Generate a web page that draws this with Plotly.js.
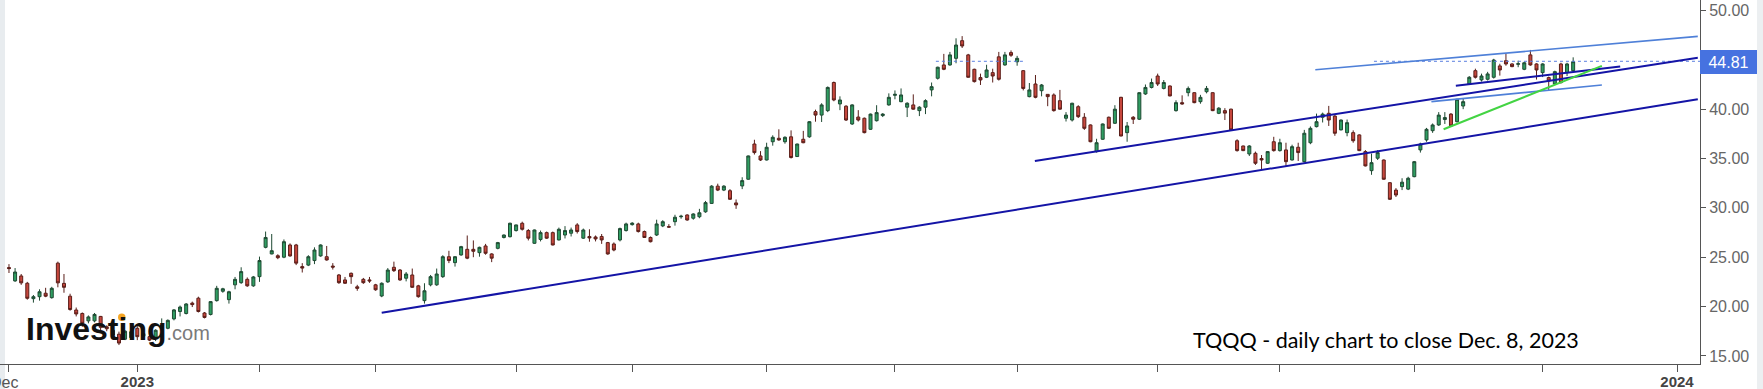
<!DOCTYPE html>
<html>
<head>
<meta charset="utf-8">
<script src="https://cdn.plot.ly/plotly-3.0.1.min.js"></script>
<style>
  html, body { margin: 0; padding: 0; background: #ffffff; }
  #chart { width: 1763px; height: 389px; }
</style>
</head>
<body>
<div id="chart"></div>
<script>
// ---- Trading sessions (x categories) ----
const dates = [
  '2022-12-01','2022-12-02','2022-12-05','2022-12-06','2022-12-07','2022-12-08','2022-12-09','2022-12-12','2022-12-13','2022-12-14','2022-12-15','2022-12-16','2022-12-19','2022-12-20','2022-12-21','2022-12-22','2022-12-23','2022-12-27','2022-12-28','2022-12-29','2022-12-30',
  '2023-01-03','2023-01-04','2023-01-05','2023-01-06','2023-01-09','2023-01-10','2023-01-11','2023-01-12','2023-01-13','2023-01-17','2023-01-18','2023-01-19','2023-01-20','2023-01-23','2023-01-24','2023-01-25','2023-01-26','2023-01-27','2023-01-30','2023-01-31',
  '2023-02-01','2023-02-02','2023-02-03','2023-02-06','2023-02-07','2023-02-08','2023-02-09','2023-02-10','2023-02-13','2023-02-14','2023-02-15','2023-02-16','2023-02-17','2023-02-21','2023-02-22','2023-02-23','2023-02-24','2023-02-27','2023-02-28',
  '2023-03-01','2023-03-02','2023-03-03','2023-03-06','2023-03-07','2023-03-08','2023-03-09','2023-03-10','2023-03-13','2023-03-14','2023-03-15','2023-03-16','2023-03-17','2023-03-20','2023-03-21','2023-03-22','2023-03-23','2023-03-24','2023-03-27','2023-03-28','2023-03-29','2023-03-30','2023-03-31',
  '2023-04-03','2023-04-04','2023-04-05','2023-04-06','2023-04-10','2023-04-11','2023-04-12','2023-04-13','2023-04-14','2023-04-17','2023-04-18','2023-04-19','2023-04-20','2023-04-21','2023-04-24','2023-04-25','2023-04-26','2023-04-27','2023-04-28',
  '2023-05-01','2023-05-02','2023-05-03','2023-05-04','2023-05-05','2023-05-08','2023-05-09','2023-05-10','2023-05-11','2023-05-12','2023-05-15','2023-05-16','2023-05-17','2023-05-18','2023-05-19','2023-05-22','2023-05-23','2023-05-24','2023-05-25','2023-05-26','2023-05-30','2023-05-31',
  '2023-06-01','2023-06-02','2023-06-05','2023-06-06','2023-06-07','2023-06-08','2023-06-09','2023-06-12','2023-06-13','2023-06-14','2023-06-15','2023-06-16','2023-06-20','2023-06-21','2023-06-22','2023-06-23','2023-06-26','2023-06-27','2023-06-28','2023-06-29','2023-06-30',
  '2023-07-03','2023-07-05','2023-07-06','2023-07-07','2023-07-10','2023-07-11','2023-07-12','2023-07-13','2023-07-14','2023-07-17','2023-07-18','2023-07-19','2023-07-20','2023-07-21','2023-07-24','2023-07-25','2023-07-26','2023-07-27','2023-07-28','2023-07-31',
  '2023-08-01','2023-08-02','2023-08-03','2023-08-04','2023-08-07','2023-08-08','2023-08-09','2023-08-10','2023-08-11','2023-08-14','2023-08-15','2023-08-16','2023-08-17','2023-08-18','2023-08-21','2023-08-22','2023-08-23','2023-08-24','2023-08-25','2023-08-28','2023-08-29','2023-08-30','2023-08-31',
  '2023-09-01','2023-09-05','2023-09-06','2023-09-07','2023-09-08','2023-09-11','2023-09-12','2023-09-13','2023-09-14','2023-09-15','2023-09-18','2023-09-19','2023-09-20','2023-09-21','2023-09-22','2023-09-25','2023-09-26','2023-09-27','2023-09-28','2023-09-29',
  '2023-10-02','2023-10-03','2023-10-04','2023-10-05','2023-10-06','2023-10-09','2023-10-10','2023-10-11','2023-10-12','2023-10-13','2023-10-16','2023-10-17','2023-10-18','2023-10-19','2023-10-20','2023-10-23','2023-10-24','2023-10-25','2023-10-26','2023-10-27','2023-10-30','2023-10-31',
  '2023-11-01','2023-11-02','2023-11-03','2023-11-06','2023-11-07','2023-11-08','2023-11-09','2023-11-10','2023-11-13','2023-11-14','2023-11-15','2023-11-16','2023-11-17','2023-11-20','2023-11-21','2023-11-22','2023-11-24','2023-11-27','2023-11-28','2023-11-29','2023-11-30',
  '2023-12-01','2023-12-04','2023-12-05','2023-12-06','2023-12-07','2023-12-08'
];

// ---- OHLC values ----
const open = [
  23.95,22.6,23.1,22.36,20.8,21.0,21.35,20.9,24.4,22.35,21.05,19.65,19.3,18.55,18.55,19.0,17.95,17.6,17.2,16.7,16.85,
  17.8,17.0,16.95,16.8,17.9,17.8,18.75,19.5,19.3,20.35,20.85,19.35,19.2,20.6,21.55,20.7,22.2,22.42,22.76,22.1,
  23.03,26.0,25.33,25.15,25.0,26.24,26.24,24.05,24.2,24.66,25.13,25.05,24.1,23.2,22.7,23.37,22.0,22.76,22.7,
  22.2,21.07,22.5,23.98,23.7,22.87,23.2,22.1,20.6,22.2,22.2,23.03,25.05,24.45,25.23,25.8,25.8,25.46,26.14,25.33,25.9,27.0,27.08,
  27.7,28.44,27.7,26.41,26.8,27.49,27.49,26.75,27.25,27.43,28.27,26.93,27.1,27.05,27.1,26.48,26.34,26.75,27.7,
  28.3,28.37,27.6,27.0,27.25,28.17,28.1,28.6,29.1,29.28,28.95,29.1,29.6,30.45,32.2,31.8,31.74,30.5,32.22,32.9,36.47,35.26,
  34.85,36.7,37.05,36.7,37.2,35.2,36.95,37.2,39.75,39.4,39.85,42.7,40.53,40.3,38.5,39.2,39.08,37.96,38.83,39.35,40.43,
  41.4,40.76,40.2,40.43,39.85,40.2,41.95,43.13,44.48,44.48,45.15,46.94,45.5,44.04,43.2,43.23,43.7,45.3,44.48,45.73,
  44.8,43.9,41.27,42.55,41.87,41.5,41.44,40.86,39.08,38.9,40.25,39.18,38.4,35.7,36.95,39.18,38.57,41.2,37.62,39.18,38.98,41.54,42.2,
  43.36,42.1,42.35,39.85,40.66,41.67,41.67,40.76,41.77,41.67,39.58,39.85,40.0,36.8,36.27,35.46,35.53,35.0,34.52,36.7,
  35.8,35.87,34.85,36.14,34.68,36.6,38.23,39.18,39.58,39.3,37.9,37.62,37.62,37.39,35.7,33.77,35.03,34.85,32.55,31.8,32.15,31.9,
  33.16,35.87,36.88,37.82,38.4,38.95,39.5,38.73,40.32,42.55,43.9,42.96,43.03,43.23,44.38,44.91,44.58,44.55,44.04,45.5,44.58,
  43.7,43.2,42.55,44.58,43.7,43.9
];
const high = [
  24.3,23.9,23.3,22.5,21.17,21.75,21.9,22.0,24.55,23.3,21.3,19.9,19.4,19.1,19.35,19.05,18.1,17.7,17.46,17.6,17.5,
  18.0,17.6,17.1,17.7,18.8,18.7,19.75,20.1,20.35,20.5,21.0,19.45,20.55,22.1,21.9,21.6,23.0,23.98,22.95,23.1,
  25.06,27.6,27.35,25.3,26.8,26.4,26.35,24.4,25.2,26.0,26.3,26.14,24.4,23.3,23.0,23.45,22.2,22.9,23.0,
  22.3,22.45,23.9,24.55,23.8,23.5,23.85,22.2,22.36,23.2,23.85,25.2,25.65,25.1,26.15,27.2,26.7,26.07,26.35,25.4,26.55,27.3,28.5,
  28.3,28.6,27.85,27.8,27.7,27.6,27.6,28.0,28.15,28.0,28.45,27.9,27.83,27.2,27.35,26.55,26.5,28.0,28.5,
  28.55,28.5,27.7,27.1,28.8,28.75,28.35,29.3,29.3,29.35,29.45,29.9,30.7,32.3,32.45,32.3,31.9,30.85,33.1,35.3,36.9,35.75,
  36.6,37.35,37.96,37.25,37.85,36.5,37.8,38.8,39.95,40.6,42.3,42.8,41.3,40.4,40.5,39.9,39.15,39.55,40.4,39.6,41.6,
  41.9,42.1,40.7,41.5,40.3,41.0,42.7,44.3,45.6,45.8,47.18,47.4,45.6,44.1,43.6,44.5,44.1,45.8,45.8,45.95,
  45.4,43.95,42.65,43.46,42.55,41.5,41.6,41.95,39.7,40.65,40.4,39.6,38.45,37.0,38.55,39.25,40.4,41.25,38.7,39.3,41.7,42.5,43.1,
  43.6,42.95,42.4,40.9,41.4,42.3,41.7,41.45,42.35,41.7,40.2,40.1,40.05,36.95,36.3,36.35,35.7,35.35,35.75,37.2,
  37.0,36.6,36.4,36.6,37.9,38.25,39.55,39.65,40.33,39.4,38.95,38.95,37.85,37.45,35.85,35.5,35.85,34.9,32.6,32.0,33.0,33.15,
  34.75,36.6,38.1,38.55,39.7,39.7,39.6,41.05,41.1,43.35,44.1,43.6,43.78,45.1,44.6,45.66,44.65,44.91,44.8,46.0,44.65,
  44.65,43.3,43.9,44.7,44.7,45.25
];
const low = [
  23.4,22.5,22.2,20.7,20.4,20.6,20.95,20.8,21.95,21.4,19.58,19.0,17.95,18.3,18.4,17.4,17.5,16.9,16.1,16.6,16.7,
  16.6,16.7,16.5,16.5,17.7,17.7,18.6,19.0,19.2,19.95,19.4,18.8,19.1,20.5,21.4,20.3,21.75,22.3,22.0,22.0,
  22.5,25.9,25.3,24.8,24.9,25.05,24.2,23.45,24.1,24.3,25.05,24.65,23.75,22.3,22.3,22.3,21.6,22.3,22.4,
  21.6,20.95,22.4,23.5,22.6,22.55,21.9,20.9,20.3,22.05,22.1,22.9,24.4,24.05,25.15,24.8,25.0,25.05,25.25,24.5,25.8,26.9,27.0,
  27.6,27.7,26.7,26.35,26.6,26.85,26.2,26.7,26.9,27.1,27.4,26.85,26.57,26.6,26.35,25.25,25.6,26.6,27.6,
  28.2,27.5,26.95,26.5,27.15,28.05,28.0,28.2,28.9,28.7,28.8,28.95,29.5,30.4,31.7,31.7,30.8,29.9,31.9,32.85,35.4,34.75,
  34.8,36.3,36.8,36.5,35.0,35.15,36.55,37.1,38.73,38.7,39.7,40.8,39.9,38.8,38.4,38.75,37.55,37.9,38.75,39.2,40.35,
  41.0,40.7,39.2,39.95,39.3,39.5,41.3,43.0,43.95,44.4,44.65,46.2,43.2,42.7,42.45,43.15,42.7,42.9,44.4,45.3,
  44.4,41.9,41.2,41.1,41.3,40.3,39.75,39.95,38.75,38.75,39.1,37.9,36.65,35.6,36.9,38.0,38.5,37.25,36.7,38.5,38.9,41.45,42.1,
  42.35,42.0,41.3,39.75,40.45,41.3,40.6,40.55,41.6,39.8,39.5,38.9,37.85,35.7,35.75,35.25,34.35,33.9,34.45,35.7,
  35.7,34.25,34.8,34.75,34.6,36.45,38.15,38.65,38.3,37.3,37.85,37.25,36.6,35.75,34.2,33.35,34.85,32.85,30.8,31.1,31.8,31.8,
  33.1,35.6,36.7,37.6,38.3,38.5,38.25,38.65,40.0,42.45,43.1,42.8,42.9,43.1,43.4,44.4,44.25,44.25,43.95,44.4,43.0,
  43.25,41.9,42.45,42.6,43.35,43.8
];
const close = [
  23.85,23.5,22.4,20.84,21.0,21.5,21.05,21.85,22.4,21.95,19.7,19.25,18.3,18.95,19.2,17.9,17.75,17.1,16.3,17.5,17.45,
  16.95,17.25,16.6,17.6,18.1,18.6,19.66,19.95,20.26,20.2,19.5,18.9,20.5,21.85,21.8,21.5,22.76,23.54,22.1,23.0,
  24.66,27.0,25.66,24.95,26.57,25.13,24.4,23.9,25.05,25.73,26.24,24.72,24.0,22.42,22.36,23.03,21.85,22.42,22.6,
  21.7,22.36,23.7,23.64,22.7,23.3,21.95,21.0,21.6,23.03,23.3,25.05,24.66,25.05,26.07,24.9,25.6,26.0,25.4,24.9,26.48,27.25,28.44,
  28.27,27.83,26.93,27.76,27.49,26.93,26.24,27.83,27.7,27.76,27.6,27.76,26.95,26.85,26.75,25.33,25.73,27.9,28.37,
  28.45,27.6,27.0,26.57,28.37,28.6,28.05,29.05,29.15,28.77,29.38,29.5,30.53,32.2,31.8,32.2,30.87,30.3,32.76,35.26,35.6,34.85,
  36.14,37.15,36.88,37.15,35.1,36.47,36.6,38.73,39.4,40.43,42.2,40.93,40.93,38.9,40.43,38.9,37.62,39.5,39.65,39.5,41.2,
  41.5,41.44,40.6,40.0,40.2,40.86,42.28,44.25,44.04,45.5,46.5,46.4,43.23,42.79,42.96,43.97,43.36,43.03,45.5,45.46,
  45.15,42.1,41.95,41.2,42.45,41.27,39.85,40.0,39.4,40.6,39.24,38.06,36.7,36.6,38.5,38.06,40.0,37.28,38.3,38.98,41.67,42.2,42.7,
  42.55,42.7,41.34,40.66,40.53,42.1,40.66,41.2,42.1,39.85,40.1,39.6,37.9,35.8,35.8,36.27,34.52,34.85,35.7,35.8,
  36.6,34.68,36.2,35.6,37.56,38.06,38.73,39.5,38.9,37.56,38.9,38.63,36.8,35.8,34.25,34.58,35.6,32.9,30.87,31.3,32.6,33.0,
  34.68,36.47,37.96,38.4,39.4,39.15,38.3,41.0,40.76,43.23,43.23,43.36,43.57,44.98,43.97,44.58,44.31,44.6,44.7,44.48,43.97,
  44.58,42.85,43.8,42.69,44.58,44.81
];

// ---- Axis ticks ----
const monthStarts = ['2022-12-01','2023-01-03','2023-02-01','2023-03-01','2023-04-03','2023-05-01','2023-06-01','2023-07-03','2023-08-01','2023-09-01','2023-10-02','2023-11-01','2023-12-01'];
const monthLabels = ['','<b>2023</b>','','','','','','','','','','',''];
const firstMonthLabel = 'Dec';
const nextYearLabel = '<b>2024</b>';
const nextYearSessionsAhead = 17;
const priceTicks = [15, 20, 25, 30, 35, 40, 45, 50];
const lastPrice = 44.81;
const chartNote = 'TQQQ - daily chart to close Dec. 8, 2023';

// ---- Drawn trend lines (session index, price) ----
const supportX = [61.0, 276.4],      supportY = [19.38, 41.0];
const channelTopX = [167.9, 276.4],  channelTopY = [34.75, 45.22];
const upperLightX = [213.8, 276.4],  upperLightY = [44.0, 47.37];
const midLightX = [232.8, 260.7],    midLightY = [40.76, 42.45];
const shortDarkX = [236.8, 263.7],   shortDarkY = [42.37, 44.33];
const greenLineX = [234.8, 260.7],   greenLineY = [37.96, 44.38];
const levelAX = [151.7, 166.3],      levelAY = [44.85, 44.85];
const levelBX = [223.4, 276.8],      levelBY = [44.85, 44.85];

const idx = dates.map((d, i) => i);
const tickvals = monthStarts.map(d => dates.indexOf(d)).concat([dates.length - 1 + nextYearSessionsAhead]);
const ticktext = monthLabels.concat([nextYearLabel]);

const DARK = '#1414a6', LIGHT = '#4f80d8', GREEN = '#43d443', DOT = '#5a7fe0';

function line(x, y, color, width, dash) {
  return { type: 'scatter', mode: 'lines', x: x, y: y, hoverinfo: 'skip',
           line: { color: color, width: width, dash: dash || 'solid' } };
}

const traces = [
  {
    type: 'candlestick', x: idx, open: open, high: high, low: low, close: close,
    text: dates, hoverinfo: 'text',
    increasing: { line: { color: '#1f4a33', width: 1 }, fillcolor: '#2f9e62' },
    decreasing: { line: { color: '#5a1e19', width: 1 }, fillcolor: '#c7473d' },
    whiskerwidth: 0
  },
  line(levelAX, levelAY, DOT, 1, 'dot'),
  line(levelBX, levelBY, DOT, 1, 'dot'),
  line(supportX, supportY, DARK, 2),
  line(channelTopX, channelTopY, DARK, 2),
  line(upperLightX, upperLightY, LIGHT, 1.6),
  line(midLightX, midLightY, LIGHT, 1.6),
  line(shortDarkX, shortDarkY, DARK, 2),
  line(greenLineX, greenLineY, GREEN, 2)
];

const W = 1763, H = 389, ML = 0, MR = 63, MT = 0, MB = 25;
const PW = W - ML - MR, PH = H - MT - MB;

const layout = {
  width: W, height: H,
  margin: { l: ML, r: MR, t: MT, b: MB, pad: 0 },
  paper_bgcolor: '#ffffff', plot_bgcolor: '#ffffff',
  showlegend: false,
  font: { family: 'Liberation Sans, Arial, sans-serif', color: '#555' },
  xaxis: {
    type: 'linear', range: [-1.47, 276.76], automargin: false,
    tickvals: tickvals, ticktext: ticktext,
    ticks: 'outside', ticklen: 7, tickwidth: 1, tickcolor: '#555',
    ticklabelstandoff: -3, ticklabeloverflow: 'allow',
    showline: true, linecolor: '#555', linewidth: 1,
    showgrid: false, zeroline: false, fixedrange: true,
    tickfont: { size: 15, color: '#444', family: 'Liberation Sans, Arial, sans-serif' },
    rangeslider: { visible: false }
  },
  yaxis: {
    side: 'right', range: [14.18, 51.06], automargin: false,
    tickvals: priceTicks, tickformat: '.2f',
    ticks: 'outside', ticklen: 5, tickwidth: 1, tickcolor: '#555',
    showline: true, linecolor: '#555', linewidth: 1,
    showgrid: false, zeroline: false, fixedrange: true,
    tickfont: { size: 16, color: '#666', family: 'Liberation Sans, Arial, sans-serif' }
  },
  shapes: [
    { type: 'rect', xref: 'paper', yref: 'paper', x0: 0, x1: 5 / PW, y0: -MB / PH, y1: 1,
      fillcolor: '#e8ecef', line: { width: 0 }, layer: 'below' },
    { type: 'rect', xref: 'paper', yref: 'paper', x0: 1757 / PW, x1: W / PW, y0: -MB / PH, y1: 1,
      fillcolor: '#eceff1', line: { width: 0 }, layer: 'below' },
    { type: 'circle', xref: 'paper', yref: 'paper',
      x0: 118 / PW, x1: 125.5 / PW, y0: 1 - 321 / PH, y1: 1 - 313.5 / PH,
      fillcolor: '#f5a623', line: { width: 0 } }
  ],
  annotations: [
    { xref: 'paper', yref: 'paper', x: 4 / PW, y: 1 - 382 / PH, xanchor: 'center', yanchor: 'middle',
      text: firstMonthLabel, showarrow: false,
      font: { size: 16, color: '#555', family: 'Liberation Sans, Arial, sans-serif' } },
    { xref: 'paper', yref: 'y', x: 1, y: lastPrice, xanchor: 'left', yanchor: 'middle',
      text: lastPrice.toFixed(2), showarrow: false, bgcolor: '#4672e0',
      width: 53, height: 20, borderpad: 2, borderwidth: 0,
      font: { size: 16, color: '#ffffff', family: 'Liberation Sans, Arial, sans-serif' } },
    { xref: 'paper', yref: 'paper', x: 1386 / PW, y: 1 - 339.6 / PH, xanchor: 'center', yanchor: 'middle',
      text: chartNote, showarrow: false,
      font: { size: 21.5, color: '#000000', family: 'Lato, sans-serif' } },
    { xref: 'paper', yref: 'paper', x: 24 / PW, y: 1 - 329 / PH, xanchor: 'left', yanchor: 'middle',
      text: '<b>Investing</b><span style="font-size:20px;color:#7a7a7a">.com</span>', showarrow: false,
      font: { size: 32, color: '#111111', family: 'Liberation Sans, Arial, sans-serif' } }
  ]
};

Plotly.newPlot('chart', traces, layout, { staticPlot: true, displayModeBar: false });
</script>
</body>
</html>
